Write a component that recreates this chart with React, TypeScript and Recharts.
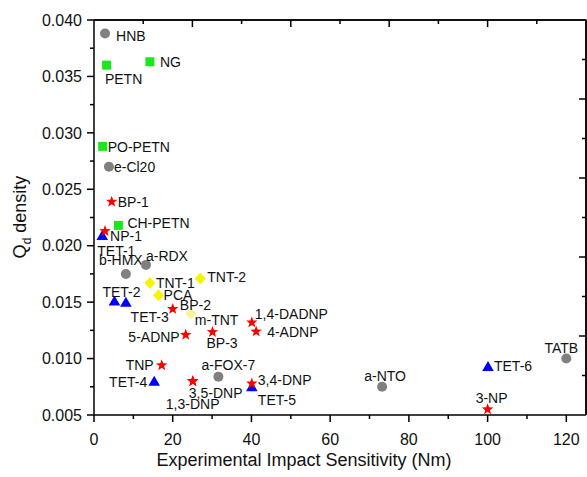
import { ScatterChart, Scatter, XAxis, YAxis, CartesianGrid } from 'recharts';

// values (x: impact sensitivity in Nm, y: Qd density)
const circleNames = ['HNB', 'e-Cl20', 'b-HMX', 'a-RDX', 'a-FOX-7', 'a-NTO', 'TATB'];
const circleImpact = [2.8, 3.8, 8.1, 13.2, 31.6, 73.2, 120];
const circleQd = [0.0388, 0.027, 0.0175, 0.0183, 0.0084, 0.0075, 0.01];

const squareNames = ['PETN', 'NG', 'PO-PETN', 'CH-PETN'];
const squareImpact = [3.2, 14.2, 2.2, 6.2];
const squareQd = [0.036, 0.0363, 0.0288, 0.0218];

const starNames = ['BP-1', 'NP-1', 'TET-3', '5-ADNP', 'BP-3', '1,4-DADNP', '4-ADNP', 'TNP', '3,5-DNP', '1,3-DNP', '3,4-DNP', '3-NP'];
const starImpact = [4.5, 2.8, 20, 23.3, 30.1, 40.1, 41.2, 17.2, 25.1, 25.1, 40.1, 100];
const starQd = [0.0239, 0.0213, 0.0144, 0.0121, 0.01235, 0.0132, 0.0124, 0.0094, 0.008, 0.008, 0.0078, 0.0055];

const triangleNames = ['TET-1', 'TET-2', '', 'TET-4', 'TET-5', 'TET-6'];
const triangleImpact = [2.1, 5.2, 8.1, 15.3, 40.1, 100.1];
const triangleQd = [0.0209, 0.0151, 0.015, 0.008, 0.0075, 0.0093];

const diamondNames = ['TNT-1', 'TNT-2', 'PCA'];
const diamondImpact = [14.2, 27, 16.4];
const diamondQd = [0.0167, 0.0171, 0.0156];

const paleNames = ['m-TNT'];
const paleImpact = [24.6];
const paleQd = [0.014];
const paleCoLabel = 'BP-2';

const xTicks = [0, 10, 20, 30, 40, 50, 60, 70, 80, 90, 100, 110, 120];
const xMajor = [0, 20, 40, 60, 80, 100, 120];
const topTicks = [12.5, 25, 37.5, 50, 62.5, 75, 87.5, 100, 112.5];
const yTicks = [0.005, 0.0075, 0.01, 0.0125, 0.015, 0.0175, 0.02, 0.0225, 0.025, 0.0275, 0.03, 0.0325, 0.035, 0.0375, 0.04];
const rightTicks = [0.0085, 0.012, 0.0155, 0.019, 0.0225, 0.026, 0.0295, 0.033, 0.0365];

const X_MAX = 125;
const Y_MIN = 0.005;
const Y_MAX = 0.04;

// chart box
const W = 587;
const H = 477;
const M = { top: 20, right: 1, bottom: 0, left: 0 };
const Y_AXIS_W = 94;
const X_AXIS_H = 62;
const PLOT_L = M.left + Y_AXIS_W;
const PLOT_R = W - M.right;
const PLOT_T = M.top;
const PLOT_B = H - M.bottom - X_AXIS_H;

// label placement relative to the marker: dx, dy, anchor
const labelLayout: Record<string, [number, number, 'start' | 'middle' | 'end']> = {
  HNB: [11, 2, 'start'],
  NG: [10, 0, 'start'],
  PETN: [17, 14, 'middle'],
  'PO-PETN': [5, 1, 'start'],
  'e-Cl20': [5, 0, 'start'],
  'BP-1': [6, 0, 'start'],
  'CH-PETN': [9, -2, 'start'],
  'NP-1': [5, 5, 'start'],
  'TET-1': [-5, 15, 'start'],
  'b-HMX': [-5, -13.5, 'middle'],
  'a-RDX': [0, -9, 'start'],
  'TNT-1': [6, 0, 'start'],
  'TNT-2': [7, -1, 'start'],
  PCA: [5, 0, 'start'],
  'TET-2': [7, -9, 'middle'],
  'TET-3': [-4, 8, 'end'],
  'BP-2': [-11, -8, 'start'],
  'm-TNT': [4, 7, 'start'],
  'BP-3': [-6, 11, 'start'],
  '5-ADNP': [-6, 2, 'end'],
  '1,4-DADNP': [3, -8, 'start'],
  '4-ADNP': [11, 1, 'start'],
  TNP: [-8, 0, 'end'],
  'TET-4': [-7, 1, 'end'],
  'a-FOX-7': [10, -12, 'middle'],
  '3,5-DNP': [-4, 12, 'start'],
  '1,3-DNP': [-27, 23, 'start'],
  '3,4-DNP': [6, -3, 'start'],
  'TET-5': [6, 13, 'start'],
  'a-NTO': [3, -11, 'middle'],
  'TET-6': [6, 0, 'start'],
  '3-NP': [4, -11, 'middle'],
  TATB: [-5, -11, 'middle'],
};

const FONT = '"Liberation Sans", Arial, sans-serif';

const toPoints = (names: string[], xs: number[], ys: number[]) =>
  names.map((name, i) => ({ name, x: xs[i], y: ys[i] }));

function PointLabel({ name, cx, cy }: { name: string; cx: number; cy: number }) {
  const l = labelLayout[name];
  if (!name || !l) return null;
  return (
    <text x={cx + l[0]} y={cy + l[1] + 5} textAnchor={l[2]} fontSize={14} fontFamily={FONT} fill="#111">
      {name}
    </text>
  );
}

function starPath(cx: number, cy: number, ro: number, ri: number) {
  const pts: string[] = [];
  for (let i = 0; i < 10; i++) {
    const r = i % 2 === 0 ? ro : ri;
    const a = -Math.PI / 2 + (i * Math.PI) / 5;
    pts.push(`${cx + r * Math.cos(a)},${cy + r * Math.sin(a)}`);
  }
  return pts.join(' ');
}

const makeShape = (kind: string, color: string, coLabel?: string) => (props: any) => {
  const { cx, cy, payload } = props;
  if (cx == null || cy == null) return <g />;
  let mark;
  if (kind === 'circle') mark = <circle cx={cx} cy={cy} r={5} fill={color} />;
  else if (kind === 'square') mark = <rect x={cx - 4.5} y={cy - 4.5} width={9} height={9} fill={color} />;
  else if (kind === 'star') mark = <polygon points={starPath(cx, cy, 6, 2.5)} fill={color} />;
  else if (kind === 'triangle')
    mark = <polygon points={`${cx},${cy - 5.5} ${cx - 5.8},${cy + 4.5} ${cx + 5.8},${cy + 4.5}`} fill={color} />;
  else mark = <polygon points={`${cx},${cy - 6} ${cx + 5.5},${cy} ${cx},${cy + 6} ${cx - 5.5},${cy}`} fill={color} />;
  return (
    <g>
      {mark}
      <PointLabel name={payload.name} cx={cx} cy={cy} />
      {coLabel && <PointLabel name={coLabel} cx={cx} cy={cy} />}
    </g>
  );
};

const BottomTick = ({ x, y, payload }: any) => {
  const major = xMajor.includes(payload.value);
  return (
    <g>
      <line x1={x} x2={x} y1={y} y2={y + (major ? 7 : 4)} stroke="#000" strokeWidth={1.5} />
      {major && (
        <text x={x} y={y + 30} textAnchor="middle" fontSize={16} fontFamily={FONT} fill="#111">
          {payload.value}
        </text>
      )}
    </g>
  );
};

const LeftTick = ({ x, y, payload }: any) => {
  const major = Math.round(payload.value * 10000) % 50 === 0;
  return (
    <g>
      <line x1={x} x2={x - (major ? 7 : 4)} y1={y} y2={y} stroke="#000" strokeWidth={1.5} />
      {major && (
        <text x={x - 12} y={y + 5.7} textAnchor="end" fontSize={16} fontFamily={FONT} fill="#111">
          {payload.value.toFixed(3)}
        </text>
      )}
    </g>
  );
};

// top/right frame of the plot box, with inward ticks (same linear mapping as the axes)
function Frame() {
  const px = (v: number) => PLOT_L + (v / X_MAX) * (PLOT_R - PLOT_L);
  const py = (v: number) => PLOT_T + ((Y_MAX - v) / (Y_MAX - Y_MIN)) * (PLOT_B - PLOT_T);
  return (
    <svg width={W} height={H} style={{ position: 'absolute', left: 0, top: 0, pointerEvents: 'none', zIndex: 2 }}>
      <polyline
        points={`${PLOT_L},${PLOT_T} ${PLOT_R},${PLOT_T} ${PLOT_R},${PLOT_B}`}
        fill="none"
        stroke="#000"
        strokeWidth={1.5}
      />
      {topTicks.map((v) => {
        const major = Math.round(v * 2) % 50 === 0;
        return <line key={`t${v}`} x1={px(v)} x2={px(v)} y1={PLOT_T} y2={PLOT_T + (major ? 7 : 4)} stroke="#000" strokeWidth={1.5} />;
      })}
      {rightTicks.map((v) => {
        const major = Math.round((Y_MAX - v) * 10000) % 70 === 0;
        return <line key={`r${v}`} x1={PLOT_R} x2={PLOT_R - (major ? 7 : 4)} y1={py(v)} y2={py(v)} stroke="#000" strokeWidth={1.5} />;
      })}
    </svg>
  );
}

const axisLine = { stroke: '#000', strokeWidth: 1.5 };

export default function App() {
  return (
    <div style={{ position: 'absolute', left: 0, top: 0, width: W, height: H, background: '#fff' }}>
      <ScatterChart width={W} height={H} margin={M}>
        {/* frame edges drawn as grid lines at the top and right of the plot */}
        <CartesianGrid
          horizontalPoints={[PLOT_T]}
          verticalPoints={[PLOT_R]}
          stroke="#000"
          strokeWidth={1.5}
          strokeDasharray="0"
        />
        <XAxis
          type="number"
          dataKey="x"
          domain={[0, X_MAX]}
          ticks={xTicks}
          interval={0}
          height={X_AXIS_H}
          tickSize={0}
          tickMargin={0}
          tickLine={false}
          axisLine={axisLine}
          tick={<BottomTick />}
          label={{
            content: () => (
              <text x={304} y={466} textAnchor="middle" fontSize={18} fontFamily={FONT} fill="#111">
                Experimental Impact Sensitivity (Nm)
              </text>
            ),
          }}
        />
        <YAxis
          type="number"
          dataKey="y"
          domain={[Y_MIN, Y_MAX]}
          ticks={yTicks}
          interval={0}
          width={Y_AXIS_W}
          tickSize={0}
          tickMargin={0}
          tickLine={false}
          axisLine={axisLine}
          tick={<LeftTick />}
          label={{
            content: () => (
              <text
                x={26}
                y={217}
                transform="rotate(-90 26 217)"
                textAnchor="middle"
                fontSize={18}
                fontFamily={FONT}
                fill="#111"
              >
                Q<tspan fontSize={12} dy={5}>d</tspan>
                <tspan dy={-5}> density</tspan>
              </text>
            ),
          }}
        />
        <Scatter data={toPoints(circleNames, circleImpact, circleQd)} shape={makeShape('circle', '#808080')} isAnimationActive={false} />
        <Scatter data={toPoints(squareNames, squareImpact, squareQd)} shape={makeShape('square', '#1ee61e')} isAnimationActive={false} />
        <Scatter data={toPoints(diamondNames, diamondImpact, diamondQd)} shape={makeShape('diamond', '#f5f500')} isAnimationActive={false} />
        <Scatter data={toPoints(paleNames, paleImpact, paleQd)} shape={makeShape('diamond', '#f7f49a', paleCoLabel)} isAnimationActive={false} />
        <Scatter data={toPoints(triangleNames, triangleImpact, triangleQd)} shape={makeShape('triangle', '#0000ff')} isAnimationActive={false} />
        <Scatter data={toPoints(starNames, starImpact, starQd)} shape={makeShape('star', '#ff0000')} isAnimationActive={false} />
      </ScatterChart>
      <Frame />
    </div>
  );
}
